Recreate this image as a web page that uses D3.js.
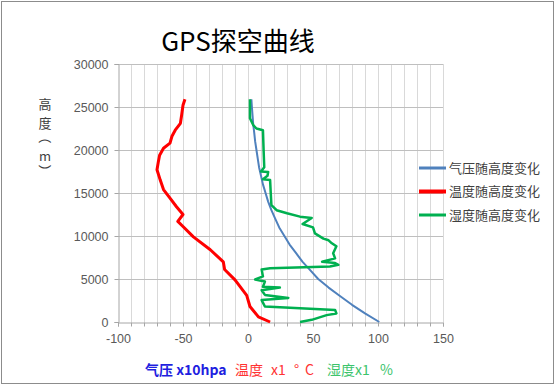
<!DOCTYPE html>
<html>
<head>
<meta charset="utf-8">
<script src="https://cdn.jsdelivr.net/npm/d3@7"></script>
<style>
  body { margin: 0; background: #fff; }
  text { font-family: "Liberation Sans", "Noto Sans CJK SC", sans-serif; }
</style>
</head>
<body>
<div id="chart"></div>
<script>
// series: [value, height in m]
var pressureData = [[101,0],[90,1000],[80,2000],[71,3000],[62,4000],[54,5000],[48,6000],[42,7000],
  [37,8000],[32,9000],[28,10000],[24,11000],[21,12000],[18,13000],[15.5,14000],[13.5,15000],
  [11.5,16000],[10,17000],[8.5,18000],[7.5,19000],[6.5,20000],[5.5,21000],[4.8,22000],[4,23000],
  [3.5,24000],[3,25000],[2.6,25900]]
var tempData = [[-48.5,25900],[-50,25200],[-51,24100],[-52,23100],[-56,22300],[-58.5,21600],[-60,20800],
  [-65,20200],[-68,19400],[-69,18600],[-70,17700],[-67.5,16500],[-65,15400],[-60,14400],[-55,13400],
  [-50,12500],[-54,11700],[-50,11100],[-42,9900],[-29,8400],[-19,7000],[-18,6100],[-10,4900],
  [-1,3100],[1.5,1800],[8,600],[17,0]]
var humidData = [[1.5,25900],[1.5,23700],[4,22900],[6.5,22500],[11.5,22300],[12,20000],[12.5,18000],
  [10,17500],[15.5,17450],[15,17000],[11.5,16600],[17,16500],[17.5,15000],[18,13600],[22,13000],
  [30,12650],[40,12250],[49,12100],[42,11400],[50,11000],[51.5,10300],[58,9700],[62,9500],[64.5,9150],
  [68,8800],[65.5,8000],[67,7400],[57,7000],[67,6850],[69.5,6650],[63,6450],[17,6250],[10.5,6100],
  [11.5,5300],[5.5,4950],[13,4700],[11.5,4100],[24.5,4000],[10.5,3700],[13,3150],[31,2800],
  [10.5,2550],[13,1800],[40,1600],[67,1400],[68,1000],[60.5,800],[49,250],[40,0]]

var seriesNames = ["气压随高度变化", "温度随高度变化", "湿度随高度变化"]
var seriesColors = ["#4f81bd", "#ff0000", "#00b050"]
var xTicks = [-100, -50, 0, 50, 100, 150]
var yTicks = [0, 5000, 10000, 15000, 20000, 25000, 30000]

var W = 556, H = 386
var margin = {top: 64, left: 118}
var width = 325, height = 258

var svg = d3.select("#chart").append("svg")
    .attr("width", W).attr("height", H)

// outer frame
svg.append("rect")
    .attr("x", 1.5).attr("y", 1.5)
    .attr("width", W - 4).attr("height", H - 4)
    .attr("fill", "#fff").attr("stroke", "#8c8c8c")

var g = svg.append("g")
    .attr("transform", "translate(" + margin.left + "," + margin.top + ")")

var x = d3.scaleLinear().domain([-100, 150]).range([0, width])
var y = d3.scaleLinear().domain([0, 30000]).range([height, 0])

// vertical gridlines every 10
g.selectAll(".vgrid")
  .data(d3.range(-90, 151, 10))
  .enter().append("line")
    .attr("x1", function(d){ return Math.round(x(d)) + 0.5 })
    .attr("x2", function(d){ return Math.round(x(d)) + 0.5 })
    .attr("y1", 0).attr("y2", height)
    .attr("stroke", "#d9d9d9")

// horizontal gridlines
g.selectAll(".hgrid")
  .data(yTicks.slice(1))
  .enter().append("line")
    .attr("x1", 0).attr("x2", width)
    .attr("y1", function(d){ return Math.round(y(d)) + 0.5 })
    .attr("y2", function(d){ return Math.round(y(d)) + 0.5 })
    .attr("stroke", "#bfbfbf")

// axes
var xAxis = g.append("g")
    .attr("transform", "translate(0," + (height + 0.5) + ")")
    .call(d3.axisBottom(x).tickValues(d3.range(-100, 151, 10)).tickSize(4)
      .tickFormat(function(d){ return xTicks.indexOf(d) >= 0 ? d : "" }))
var yAxis = g.append("g")
    .attr("transform", "translate(0.5,0)")
    .call(d3.axisLeft(y).tickValues(yTicks).tickSize(4).tickPadding(6).tickFormat(d3.format("d")))

;[xAxis, yAxis].forEach(function(a){
  a.select(".domain").attr("stroke", "#a6a6a6")
  a.selectAll(".tick line").attr("stroke", "#a6a6a6")
  a.selectAll("text").attr("fill", "#595959")
    .style("font-size", "12.5px").style("font-family", "Liberation Sans, sans-serif")
})
xAxis.selectAll("text").attr("dy", "1.1em")

// lines
var line = d3.line()
    .x(function(d){ return x(d[0]) })
    .y(function(d){ return y(d[1]) })

var allSeries = [pressureData, tempData, humidData]
var widths = [2, 3, 2.5]
allSeries.forEach(function(s, i){
  g.append("path")
    .datum(s)
    .attr("d", line)
    .attr("fill", "none")
    .attr("stroke", seriesColors[i])
    .attr("stroke-width", widths[i])
    .attr("stroke-linejoin", "round")
})

// legend
var legend = svg.append("g").attr("transform", "translate(419,168)")
seriesNames.forEach(function(name, i){
  var row = legend.append("g").attr("transform", "translate(0," + (i * 23.5) + ")")
  row.append("line")
    .attr("x1", 0).attr("x2", 27).attr("y1", 0).attr("y2", 0)
    .attr("stroke", seriesColors[i]).attr("stroke-width", i == 1 ? 4 : 3)
  row.append("text")
    .attr("x", 30).attr("y", 0).attr("dy", "0.35em")
    .style("font-size", "13px")
    .style("font-family", "Noto Sans CJK SC")
    .attr("fill", "#404040")
    .text(name)
})

// title
svg.append("text")
    .attr("x", 238).attr("y", 51)
    .attr("text-anchor", "middle")
    .style("font-size", "26px")
    .style("font-family", "Noto Sans CJK SC")
    .attr("fill", "#000")
    .text("GPS探空曲线")

// y axis title, one character per row, brackets turned
var yTitle = "高度（m）".split("")
var yStep = [0, 19, 34, 52, 68]
svg.selectAll(".ytitle")
  .data(yTitle)
  .enter().append("text")
    .attr("text-anchor", "middle")
    .attr("dominant-baseline", "central")
    .attr("transform", function(d, i){
      var t = "translate(45," + (103 + yStep[i]) + ")"
      return (d == "（" || d == "）") ? t + " rotate(90)" : t
    })
    .style("font-size", "13px")
    .style("font-family", "Noto Sans CJK SC")
    .attr("fill", "#404040")
    .text(function(d){ return d })

// x axis title
var xt = svg.append("text")
    .attr("y", 375)
    .style("font-size", "14px")
    .style("font-family", "Noto Sans CJK SC")
xt.append("tspan").attr("x", 145).attr("fill", "#1f1fe0").style("font-weight", "bold").text("气压 x10hpa")
xt.append("tspan").attr("x", 235).attr("fill", "#ff3333").text("温度")
xt.append("tspan").attr("x", 271).attr("fill", "#ff3333").text("x1")
xt.append("tspan").attr("x", 294).attr("fill", "#ff3333").text("°")
xt.append("tspan").attr("x", 305).attr("fill", "#ff3333").text("C")
xt.append("tspan").attr("x", 327).attr("fill", "#3cc46c").text("湿度x1")
xt.append("tspan").attr("x", 380).attr("fill", "#3cc46c").text("%")
</script>
</body>
</html>
